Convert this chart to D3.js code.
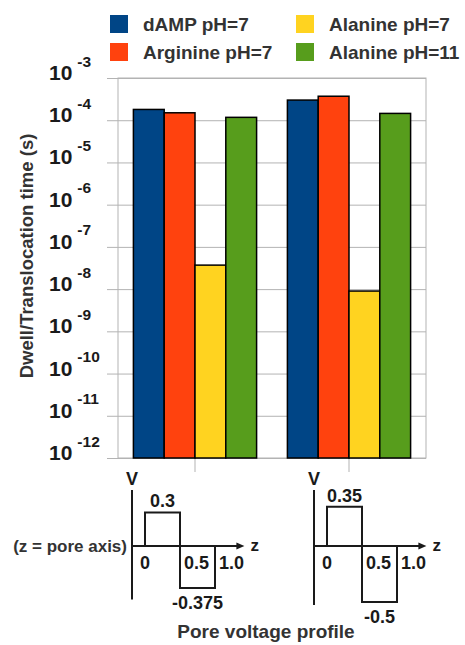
<!DOCTYPE html>
<html>
<head>
<meta charset="utf-8">
<script src="https://cdn.jsdelivr.net/npm/d3@7"></script>
<style>
  body { margin: 0; background: #fff; }
  svg { display: block; font-family: "Liberation Sans", Arial, sans-serif; font-weight: bold; }
</style>
</head>
<body>
<svg id="chart" width="465" height="645"></svg>
<script>
// data
const profiles = ["0.3 / -0.375", "0.35 / -0.5"];
const seriesNames = ["dAMP pH=7", "Arginine pH=7", "Alanine pH=7", "Alanine pH=11"];
const dAMP = [1.8e-4, 3.0e-4];
const arginine = [1.5e-4, 3.7e-4];
const alanine7 = [3.7e-8, 9.0e-9];
const alanine11 = [1.17e-4, 1.45e-4];
const yExponents = [-3, -4, -5, -6, -7, -8, -9, -10, -11, -12];
const vPos = [0.3, 0.35];
const vNeg = [-0.375, -0.5];
const zTicks = [0, 0.5, 1.0];

const colors = ["#004586", "#ff420e", "#ffd320", "#579d1c"];
const seriesValues = [dAMP, arginine, alanine7, alanine11];
const gridColor = "#b3b3b3";
const ink = "#1a1a1a";

const plot = { left: 118, right: 426, top: 78, bottom: 458 };
const svg = d3.select("#chart");

const y = d3.scaleLog().domain([1e-12, 1e-3]).range([plot.bottom, plot.top]);
const x0 = d3.scaleBand().domain(profiles).range([plot.left, plot.right])
  .paddingInner(0.2).paddingOuter(0.1);
const x1 = d3.scaleBand().domain(seriesNames).range([0, x0.bandwidth()]);
const tickVals = yExponents.map((e) => Math.pow(10, e));

// gridlines
const grid = svg.append("g")
  .attr("transform", `translate(${plot.left},0)`)
  .call(d3.axisLeft(y).tickValues(tickVals).tickSize(-(plot.right - plot.left)).tickFormat(""));
grid.select(".domain").remove();
grid.selectAll(".tick line").attr("stroke", gridColor);

// outward ticks + labels
const yAxis = svg.append("g")
  .attr("transform", `translate(${plot.left},0)`)
  .attr("font-family", null).attr("font-size", null)
  .call(d3.axisLeft(y).tickValues(tickVals).tickSize(11).tickFormat(""));
yAxis.select(".domain").remove();
yAxis.selectAll(".tick line").attr("stroke", gridColor);
yAxis.selectAll(".tick text")
  .attr("x", 49 - plot.left)
  .attr("dy", 1.5)
  .attr("text-anchor", "start")
  .attr("font-size", 21)
  .attr("fill", ink)
  .each(function (d) {
    const t = d3.select(this);
    t.append("tspan").text("10");
    t.append("tspan").attr("dx", 5).attr("dy", -13.5).attr("font-size", 15.5)
      .text(Math.round(Math.log10(d)));
  });

// frame
svg.append("rect")
  .attr("x", plot.left).attr("y", plot.top)
  .attr("width", plot.right - plot.left).attr("height", plot.bottom - plot.top)
  .attr("fill", "none").attr("stroke", gridColor);

// category ticks under the plot
const xAxis = svg.append("g")
  .attr("transform", `translate(0,${plot.bottom})`)
  .call(d3.axisBottom(x0).tickSize(14).tickFormat(""));
xAxis.select(".domain").remove();
xAxis.selectAll(".tick line").attr("stroke", gridColor);

// bars
const groups = svg.selectAll(".group")
  .data(profiles)
  .enter()
  .append("g")
  .attr("class", "group")
  .attr("transform", (d) => `translate(${x0(d)},0)`);

groups.selectAll("rect")
  .data((d, j) => seriesNames.map((s, i) => ({ s, i, v: seriesValues[i][j] })))
  .enter()
  .append("rect")
  .attr("x", (d) => x1(d.s))
  .attr("width", x1.bandwidth())
  .attr("y", (d) => y(d.v))
  .attr("height", (d) => plot.bottom - y(d.v))
  .attr("fill", (d) => colors[d.i])
  .attr("stroke", "#000")
  .attr("stroke-width", 1.5);

// legend
const legend = svg.selectAll(".legend")
  .data(seriesNames)
  .enter()
  .append("g")
  .attr("class", "legend")
  .attr("transform", (d, i) => `translate(${[110, 296][Math.floor(i / 2)]},${15 + (i % 2) * 28})`);
legend.append("rect")
  .attr("width", 18).attr("height", 18)
  .attr("fill", (d, i) => colors[i]);
legend.append("text")
  .attr("x", 33).attr("y", 16)
  .attr("font-size", 19)
  .attr("fill", "#333")
  .text((d) => d);

// y title
svg.append("text")
  .attr("transform", "translate(26,256) rotate(-90)")
  .attr("text-anchor", "middle")
  .attr("dominant-baseline", "central")
  .attr("font-size", 18.5)
  .attr("fill", "#333")
  .text("Dwell/Translocation time (s)");

// voltage profiles
const axisX = [132, 314];
const zeroY = 546;
const v = d3.scaleLinear().domain([0, 1]).range([zeroY, zeroY - 112]);

profiles.forEach((p, j) => {
  const ax = axisX[j];
  const z = d3.scaleLinear().domain([0, 1]).range([ax + 13, ax + 83]);
  const g = svg.append("g").attr("fill", ink);
  const zEnd = z(1.42);

  g.append("line")
    .attr("x1", ax).attr("x2", ax)
    .attr("y1", v(0.5)).attr("y2", v(Math.min(vNeg[j], -0.45)) + 3)
    .attr("stroke", ink).attr("stroke-width", 2);
  g.append("line")
    .attr("x1", ax).attr("x2", zEnd - 4)
    .attr("y1", zeroY).attr("y2", zeroY)
    .attr("stroke", ink).attr("stroke-width", 2);
  g.append("path")
    .attr("d", `M${zEnd},${zeroY}L${zEnd - 8},${zeroY - 3.5}L${zEnd - 8},${zeroY + 3.5}Z`);

  g.append("path")
    .attr("d", d3.line()([
      [z(0), v(0)], [z(0), v(vPos[j])], [z(0.5), v(vPos[j])],
      [z(0.5), v(vNeg[j])], [z(1), v(vNeg[j])], [z(1), v(0)]
    ]))
    .attr("fill", "none").attr("stroke", ink).attr("stroke-width", 2);

  g.append("text").attr("x", ax).attr("y", 485).attr("text-anchor", "middle")
    .attr("font-size", 18).text("V");
  g.append("text").attr("x", zEnd + 6).attr("y", zeroY + 5)
    .attr("font-size", 17).text("z");

  g.selectAll(".zt")
    .data(zTicks)
    .enter()
    .append("text")
    .attr("x", (t) => (t === 0 ? z(t) : z(t) + 4))
    .attr("y", zeroY + 23)
    .attr("text-anchor", (t) => (t === 0 ? "middle" : "start"))
    .attr("font-size", 18)
    .text((t) => (t === 0 ? "0" : t.toFixed(1)));

  g.append("text").attr("x", z(0.25)).attr("y", v(vPos[j]) - 5)
    .attr("text-anchor", "middle").attr("font-size", 18).text(vPos[j]);
  g.append("text").attr("x", z(0.75)).attr("y", v(vNeg[j]) + 21)
    .attr("text-anchor", "middle").attr("font-size", 18).text(vNeg[j]);
});

svg.append("text")
  .attr("x", axisX[0] - 5).attr("y", zeroY + 6)
  .attr("text-anchor", "end")
  .attr("font-size", 17)
  .attr("fill", "#333")
  .text("(z = pore axis)");

svg.append("text")
  .attr("x", 266).attr("y", 638)
  .attr("text-anchor", "middle")
  .attr("font-size", 19)
  .attr("fill", "#333")
  .text("Pore voltage profile");
</script>
</body>
</html>
